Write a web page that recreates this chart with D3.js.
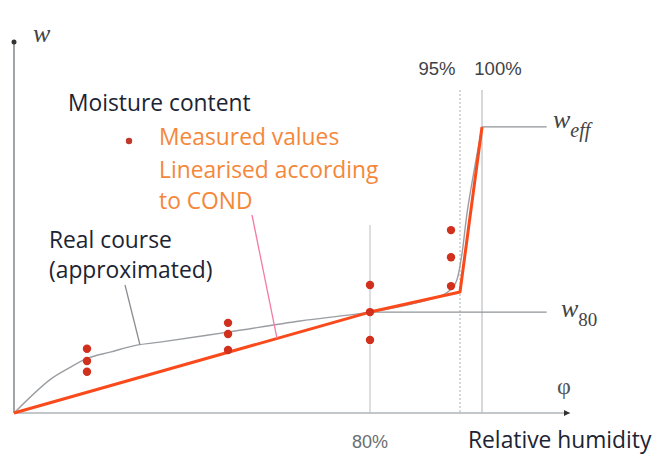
<!DOCTYPE html>
<html><head><meta charset="utf-8">
<script src="https://cdn.jsdelivr.net/npm/d3@7"></script>
<style>
html,body{margin:0;padding:0;background:#fff;}
svg{display:block;}
</style></head>
<body>
<svg id="chart" width="658" height="454"></svg>
<script>
// ---- data ----
const refPhi = [80, 95, 100];
const refLabels = ["80%", "95%", "100%"];
const w80 = 27.2;
const wEff = 77.1;
const measuredPhi = [16.4, 16.4, 16.4, 48.1, 48.1, 48.1, 80, 80, 80, 93.5, 93.5, 93.5];
const measuredW   = [17.3, 14.0, 11.1, 24.3, 21.3, 17.0, 34.5, 27.2, 19.7, 49.3, 42.0, 34.2];
const linPhi = [0, 80, 95, 100];
const linW   = [0, 27.2, 32.6, 77.1];
const realPhi = [0, 8.1, 12.6, 16.6, 21.6, 27.6, 32.8, 48.1, 64.3, 80, 88.3, 92.5, 94.2, 95.3, 96.7, 100];
const realW   = [0, 9.0, 12.3, 14.8, 16.4, 18.3, 19.1, 21.8, 24.8, 27.2, 29.9, 32.1, 34.8, 41.8, 54.7, 77.1];

// ---- scales ----
const svg = d3.select("#chart");
const x = d3.scaleLinear().domain([0, 80, 95, 100, 120]).range([14, 370, 460, 482, 570]);
const y = d3.scaleLinear().domain([0, 100]).range([413, 42]);
const refLineEnd = 114.7;

const gridCol = "#c9cdd0";
// vertical reference lines
svg.append("line").attr("x1", x(80)).attr("x2", x(80)).attr("y1", 225).attr("y2", y(0))
  .attr("stroke", "#dcdfe2").attr("stroke-width", 2);
svg.append("line").attr("x1", x(95)).attr("x2", x(95)).attr("y1", 90).attr("y2", y(0))
  .attr("stroke", "#b9bec2").attr("stroke-width", 1.2).attr("stroke-dasharray", "2,2");
svg.append("line").attr("x1", x(100)).attr("x2", x(100)).attr("y1", 90).attr("y2", y(0))
  .attr("stroke", gridCol).attr("stroke-width", 1.5);

// horizontal reference lines
svg.append("line").attr("x1", x(80)).attr("x2", x(refLineEnd)).attr("y1", y(w80)).attr("y2", y(w80))
  .attr("stroke", "#8f9498").attr("stroke-width", 1.3);
svg.append("line").attr("x1", x(100)).attr("x2", x(refLineEnd)).attr("y1", y(wEff)).attr("y2", y(wEff))
  .attr("stroke", "#8f9498").attr("stroke-width", 1.3);

// axes
svg.append("line").attr("x1", x(0)).attr("x2", x(0)).attr("y1", y(0)).attr("y2", y(100))
  .attr("stroke", "#8a8e92").attr("stroke-width", 1.6);
svg.append("circle").attr("cx", x(0)).attr("cy", y(100)).attr("r", 2.5).attr("fill", "#333");
svg.append("line").attr("x1", x(0)).attr("x2", x(120)).attr("y1", y(0)).attr("y2", y(0))
  .attr("stroke", "#b0b4b8").attr("stroke-width", 1.6);
svg.append("path").attr("d", `M${x(120)},${y(0)} l-6,-3 l0,6 z`).attr("fill", "#333");

// real course curve
const realData = realPhi.map((p, i) => [p, realW[i]]);
svg.append("path").datum(realData)
  .attr("d", d3.line().x(d => x(d[0])).y(d => y(d[1])).curve(d3.curveCatmullRom.alpha(0.5)))
  .attr("fill", "none").attr("stroke", "#9a9ea2").attr("stroke-width", 1.4);

// linearised line
const linData = linPhi.map((p, i) => [p, linW[i]]);
svg.append("path").datum(linData)
  .attr("d", d3.line().x(d => x(d[0])).y(d => y(d[1])))
  .attr("fill", "none").attr("stroke", "#fa4a1c").attr("stroke-width", 3).attr("stroke-linejoin", "round");

// measured points
svg.selectAll("circle.m").data(measuredPhi.map((p, i) => [p, measuredW[i]])).enter()
  .append("circle").attr("class", "m")
  .attr("cx", d => x(d[0])).attr("cy", d => y(d[1])).attr("r", 4.2).attr("fill", "#d1301c");

// leader lines
svg.append("line").attr("x1", 125).attr("y1", 285).attr("x2", x(28.3)).attr("y2", y(18.4))
  .attr("stroke", "#8a8e92").attr("stroke-width", 1.3);
const pinkPhi = 59.1;
svg.append("line").attr("x1", 252).attr("y1", 215).attr("x2", x(pinkPhi)).attr("y2", y(w80 * pinkPhi / 80))
  .attr("stroke", "#f47aa2").attr("stroke-width", 1.3);

// tick labels
const tickFont = "'Liberation Sans', Arial, sans-serif";
svg.append("text").attr("x", x(refPhi[0])).attr("y", 448).attr("text-anchor", "middle")
  .attr("font-family", tickFont).attr("font-size", 18).attr("fill", "#6a6e72").text(refLabels[0]);
svg.append("text").attr("x", 437).attr("y", 75).attr("text-anchor", "middle")
  .attr("font-family", tickFont).attr("font-size", 18.5).attr("fill", "#3e4246").text(refLabels[1]);
svg.append("text").attr("x", 498).attr("y", 75).attr("text-anchor", "middle")
  .attr("font-family", tickFont).attr("font-size", 18.5).attr("fill", "#3e4246").text(refLabels[2]);

// serif symbols
const serif = "'Liberation Serif', 'DejaVu Serif', serif";
svg.append("text").attr("x", 33).attr("y", 42).attr("font-family", serif).attr("font-size", 26)
  .attr("font-style", "italic").attr("fill", "#444").text("w");
const we = svg.append("text").attr("x", 553).attr("y", 128).attr("font-family", serif).attr("font-size", 26)
  .attr("fill", "#444");
we.append("tspan").attr("font-style", "italic").text("w");
we.append("tspan").attr("font-style", "italic").attr("font-size", 20).attr("dy", 9).text("eff");
const w8 = svg.append("text").attr("x", 561).attr("y", 317).attr("font-family", serif).attr("font-size", 26)
  .attr("fill", "#444");
w8.append("tspan").attr("font-style", "italic").text("w");
w8.append("tspan").attr("font-size", 19).attr("dy", 9).text("80");
svg.append("text").attr("x", 564).attr("y", 394).attr("text-anchor", "middle").attr("font-family", serif)
  .attr("font-size", 24).attr("fill", "#555").text("φ");

// annotation texts
const sans = "'Open Sans', Lato, sans-serif";
const fs = 22.8;
const dark = "#1c2433";
const orange = "#f5873a";
svg.append("text").attr("x", 68).attr("y", 111).attr("font-family", sans).attr("font-size", fs)
  .attr("fill", dark).text("Moisture content");
svg.append("circle").attr("cx", 129).attr("cy", 141).attr("r", 3.2).attr("fill", "#c0392b");
svg.append("text").attr("x", 159).attr("y", 145).attr("font-family", sans).attr("font-size", fs)
  .attr("fill", orange).text("Measured values");
svg.append("text").attr("x", 159).attr("y", 178).attr("font-family", sans).attr("font-size", fs)
  .attr("fill", orange).text("Linearised according");
svg.append("text").attr("x", 159).attr("y", 209).attr("font-family", sans).attr("font-size", fs)
  .attr("fill", orange).text("to COND");
svg.append("text").attr("x", 49).attr("y", 248).attr("font-family", sans).attr("font-size", fs)
  .attr("fill", dark).text("Real course");
svg.append("text").attr("x", 49).attr("y", 278).attr("font-family", sans).attr("font-size", fs)
  .attr("fill", dark).text("(approximated)");
svg.append("text").attr("x", 468).attr("y", 448).attr("font-family", sans).attr("font-size", fs)
  .attr("fill", dark).text("Relative humidity");
</script>
</body></html>
